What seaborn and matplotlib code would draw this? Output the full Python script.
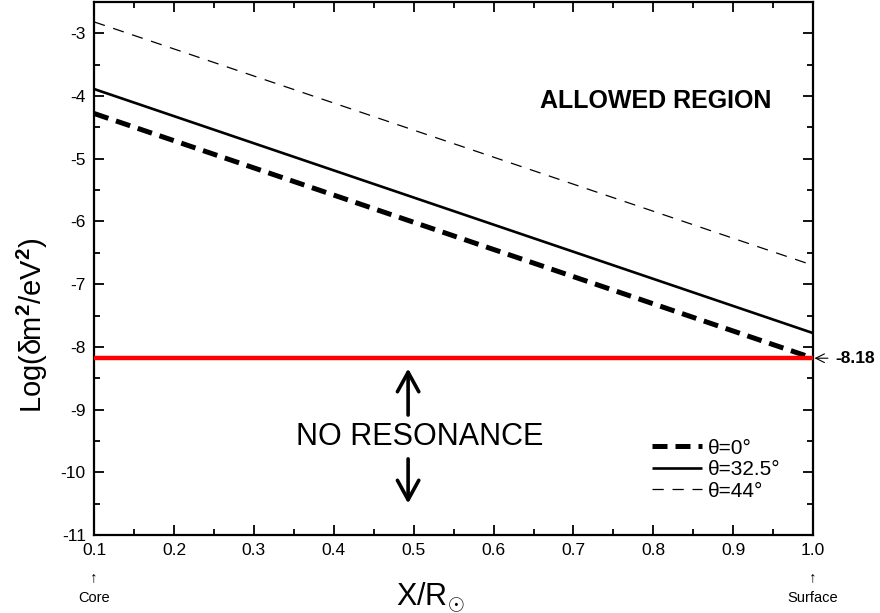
import matplotlib
matplotlib.use("Agg")
import matplotlib.pyplot as plt
import seaborn as sns
import pandas as pd
from matplotlib.ticker import MultipleLocator

# Radial position (fraction of solar radius) and resonance curves
x_pos = [0.1, 1.0]
theta_0 = [-4.28, -8.18]
theta_32_5 = [-3.89, -7.78]
theta_44 = [-2.82, -6.70]
labels = ["θ=0°", "θ=32.5°", "θ=44°"]
limit_value = -8.18
x_ticks = [0.1, 0.2, 0.3, 0.4, 0.5, 0.6, 0.7, 0.8, 0.9, 1.0]
y_ticks = [-11, -10, -9, -8, -7, -6, -5, -4, -3]

sns.set_style("ticks")
plt.rcParams["font.family"] = ["Liberation Sans", "DejaVu Sans"]
plt.rcParams["mathtext.fontset"] = "custom"
plt.rcParams["mathtext.rm"] = "Liberation Sans"
plt.rcParams["mathtext.it"] = "Liberation Sans"
plt.rcParams["mathtext.bf"] = "Liberation Sans:bold"
for key in ["text.color", "axes.labelcolor", "axes.edgecolor", "xtick.color", "ytick.color"]:
    plt.rcParams[key] = "black"

fig = plt.figure(figsize=(8.8, 6.13), dpi=100)
ax = fig.add_axes([0.107, 0.127, 0.817, 0.870])

df = pd.DataFrame({
    "x": x_pos * 3,
    "y": theta_0 + theta_32_5 + theta_44,
    "curve": [labels[0]] * 2 + [labels[1]] * 2 + [labels[2]] * 2,
})

styles = {
    labels[0]: dict(lw=3.6, dashes=(3.0, 1.6)),
    labels[1]: dict(lw=1.9, dashes=None),
    labels[2]: dict(lw=0.9, dashes=(9, 7)),
}
for name in labels:
    sub = df[df["curve"] == name]
    st = styles[name]
    sns.lineplot(data=sub, x="x", y="y", ax=ax, label=name, color="black", lw=st["lw"])
    line = ax.lines[-1]
    if st["dashes"] is not None:
        line.set_dashes(st["dashes"])
    line.set_solid_capstyle("butt")
    line.set_dash_capstyle("butt")

# No-resonance boundary
ax.axhline(limit_value, color="#ff0000", lw=3.2, zorder=3)

ax.set_xlim(0.1, 1.0)
ax.set_ylim(-11, -2.5)
ax.set_xticks(x_ticks)
ax.set_xticklabels([f"{v:.1f}" for v in x_ticks])
ax.set_yticks(y_ticks)
ax.set_yticklabels([f"{v}" for v in y_ticks])
ax.xaxis.set_minor_locator(MultipleLocator(0.05))
ax.yaxis.set_minor_locator(MultipleLocator(0.5))
ax.tick_params(which="both", direction="in", top=True, right=True, width=1.3, labelsize=12.5, pad=6)
ax.tick_params(which="major", length=7)
ax.tick_params(which="minor", length=4)
for sp in ax.spines.values():
    sp.set_linewidth(1.6)
    sp.set_visible(True)

ax.set_xlabel(r"X/R$_{\odot}$", fontsize=22)
ax.xaxis.set_label_coords(0.467, -0.085)
ax.set_ylabel(r"Log(δm$^{\mathbf{2}}$/eV$^{\mathbf{2}}$)", fontsize=21)
ax.yaxis.set_label_coords(-0.062, 0.394)

ax.text(0.803, -4.08, "ALLOWED REGION", fontsize=18, fontweight="bold",
        ha="center", va="center")
ax.text(0.508, -9.43, "NO RESONANCE", fontsize=22, ha="center", va="center")
arrow_style = "->,head_length=1.0,head_width=0.55"
ax.annotate("", xy=(0.493, -8.30), xytext=(0.493, -9.13),
            arrowprops=dict(arrowstyle=arrow_style, lw=2.6, color="black", mutation_scale=14))
ax.annotate("", xy=(0.493, -10.54), xytext=(0.493, -9.74),
            arrowprops=dict(arrowstyle=arrow_style, lw=2.6, color="black", mutation_scale=14))

# Boundary value marker to the right of the frame
ax.annotate("-8.18", xy=(1.0, limit_value), xytext=(16, 0), textcoords="offset points",
            fontsize=12.5, fontweight="bold", ha="left", va="center", annotation_clip=False,
            arrowprops=dict(arrowstyle="->,head_length=0.5,head_width=0.25", lw=0.8,
                            color="black", shrinkA=3, shrinkB=1))

# Position markers beneath the axis ends
for xv, txt in [(0.1, "Core"), (1.0, "Surface")]:
    ax.text(xv, -11.67, "↑", fontsize=11, ha="center", va="center", clip_on=False)
    ax.text(xv, -12.0, txt, fontsize=10.5, ha="center", va="center", clip_on=False)

ax.legend(loc="upper left", bbox_to_anchor=(0.776, 0.181), frameon=False,
          fontsize=15, handlelength=2.4, handletextpad=0.3, labelspacing=0.12,
          borderpad=0, borderaxespad=0)

fig.savefig("out.png", dpi=100)
